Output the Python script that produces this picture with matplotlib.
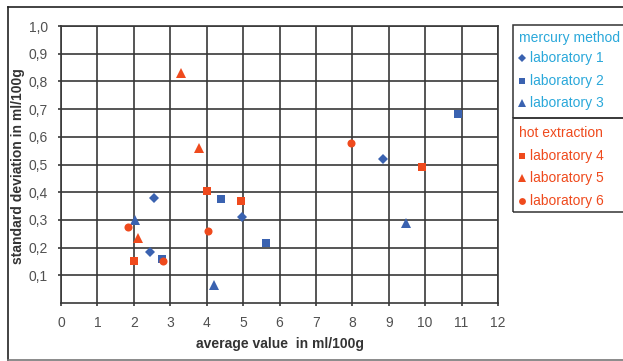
import matplotlib

matplotlib.use("Agg")

import matplotlib.pyplot as plt
from matplotlib.lines import Line2D
from matplotlib.patches import Rectangle

plt.rcParams["font.family"] = ["Liberation Sans", "DejaVu Sans"]

# mercury method
lab1_x = [2.55, 2.45, 4.96, 8.85]
lab1_y = [0.378, 0.183, 0.31, 0.519]
lab2_x = [4.40, 2.77, 5.63, 10.89]
lab2_y = [0.375, 0.16, 0.218, 0.681]
lab3_x = [2.04, 4.21, 9.46]
lab3_y = [0.30, 0.065, 0.288]

# hot extraction
lab4_x = [4.0, 4.95, 2.0, 9.91]
lab4_y = [0.404, 0.37, 0.15, 0.49]
lab5_x = [3.29, 3.79, 2.11]
lab5_y = [0.831, 0.558, 0.234]
lab6_x = [1.85, 2.81, 4.05, 7.96]
lab6_y = [0.275, 0.15, 0.26, 0.576]

x_ticks = list(range(0, 13))
y_ticks = [0.1, 0.2, 0.3, 0.4, 0.5, 0.6, 0.7, 0.8, 0.9, 1.0]
y_labels = ["0,1", "0,2", "0,3", "0,4", "0,5", "0,6", "0,7", "0,8", "0,9", "1,0"]

BLUE = "#3a62b0"
RED = "#ef4a1d"
CYAN = "#2aa8da"
GRID = "#383838"
TICK = "#505050"

W, H = 623, 361
fig = plt.figure(figsize=(W / 100, H / 100), dpi=100)
ax = fig.add_axes([61 / W, 1 - 303 / H, (498 - 61) / W, (303 - 26) / H])

series = [
    (lab1_x, lab1_y, "D", BLUE, 4.8, "laboratory 1", CYAN),
    (lab2_x, lab2_y, "s", BLUE, 5.6, "laboratory 2", CYAN),
    (lab3_x, lab3_y, "^", BLUE, 7.2, "laboratory 3", CYAN),
    (lab4_x, lab4_y, "s", RED, 5.6, "laboratory 4", RED),
    (lab5_x, lab5_y, "^", RED, 7.2, "laboratory 5", RED),
    (lab6_x, lab6_y, "o", RED, 5.8, "laboratory 6", RED),
]
for xs, ys, mk, col, ms, _, _ in series:
    ax.plot(xs, ys, linestyle="none", marker=mk, color=col, markersize=ms,
            markeredgewidth=0, zorder=3)

ax.set_xlim(0, 12)
ax.set_ylim(0, 1.0)
ax.set_xticks(x_ticks)
ax.set_yticks(y_ticks)
ax.set_yticklabels(y_labels)
ax.grid(True, color=GRID, linewidth=1.2)
for sp in ax.spines.values():
    sp.set_color(GRID)
    sp.set_linewidth(1.2)
ax.tick_params(length=2.5, width=1.2, color=GRID, labelcolor=TICK,
               labelsize=10, pad=7)
ax.set_xlabel("average value  in ml/100g", fontsize=10, fontweight="bold",
              color="#333333", labelpad=5)
fig.text(18 / W, 1 - 166 / H, "standard deviation in ml/100g", rotation=90,
         ha="center", va="center", fontsize=10, fontweight="bold",
         color="#333333")

# outer frame of the picture
frame = dict(color="#222222", linewidth=1.2)
fig.add_artist(Line2D([8 / W, 1], [1 - 7 / H, 1 - 7 / H], **frame))
fig.add_artist(Line2D([8 / W, 8 / W], [1 - 7 / H, 1 - 360 / H], **frame))
fig.add_artist(Line2D([8 / W, 1], [1 - 359.5 / H, 1 - 359.5 / H],
                      color="#777777", linewidth=1.2))

# legend: two stacked boxes
box_x0 = 513 / W
for top, bottom in [(25, 118), (118, 212)]:
    fig.add_artist(Rectangle((box_x0, 1 - bottom / H), 1 - box_x0 + 0.01,
                             (bottom - top) / H, fill=False,
                             edgecolor="#333333", linewidth=1.1))

fig.text(519 / W, 1 - 38 / H, "mercury method", color=CYAN, fontsize=10,
         va="center", ha="left")
fig.text(519 / W, 1 - 133 / H, "hot extraction", color=RED, fontsize=10,
         va="center", ha="left")
rows = [58, 80.5, 103, 156, 178, 201]
for (xs, ys, mk, col, ms, label, tcol), ry in zip(series, rows):
    fig.add_artist(Line2D([522 / W], [1 - ry / H], marker=mk, color=col,
                          markersize=ms * 0.85, markeredgewidth=0,
                          linestyle="none"))
    fig.text(530 / W, 1 - ry / H, label, color=tcol, fontsize=10,
             va="center", ha="left")

fig.savefig("out.png", dpi=100)
